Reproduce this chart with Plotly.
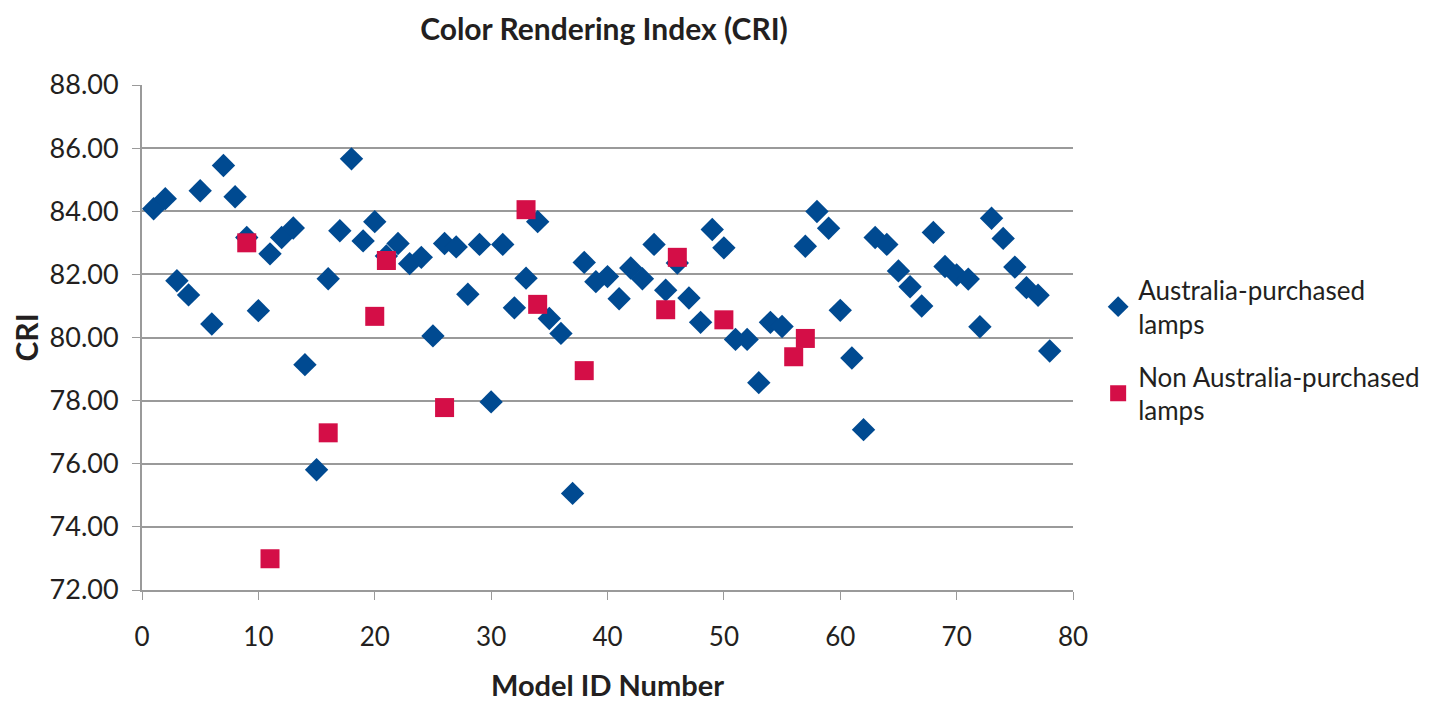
import plotly.graph_objects as go

# Australia-purchased lamps (model ID, CRI)
aus_ids = [1, 2, 3, 4, 5, 6, 7, 8, 9, 10, 11, 12, 13, 14, 15, 16, 17, 18, 19, 20,
           21, 22, 23, 24, 25, 26, 27, 28, 29, 30, 31, 32, 33, 34, 35, 36, 37, 38, 39, 40,
           41, 42, 43, 44, 45, 46, 47, 48, 49, 50, 51, 52, 53, 54, 55, 57, 58, 59, 60,
           61, 62, 63, 64, 65, 66, 67, 68, 69, 70, 71, 72, 73, 74, 75, 76, 77, 78]
aus_cri = [84.08, 84.40, 81.80, 81.35, 84.65, 80.43, 85.45, 84.46, 83.17, 80.85,
           82.65, 83.17, 83.47, 79.14, 75.81, 81.86, 83.38, 85.66, 83.06, 83.67,
           82.58, 82.98, 82.34, 82.54, 80.05, 82.98, 82.87, 81.37, 82.95, 77.96,
           82.95, 80.94, 81.88, 83.67, 80.60, 80.13, 75.06, 82.38, 81.77, 81.93,
           81.23, 82.20, 81.86, 82.95, 81.50, 82.36, 81.25, 80.48, 83.42, 82.84,
           79.94, 79.94, 78.57, 80.48, 80.35, 82.89, 83.99, 83.46, 80.86,
           79.35, 77.08, 83.17, 82.95, 82.11, 81.61, 81.00, 83.33, 82.25, 81.98,
           81.85, 80.34, 83.78, 83.14, 82.23, 81.58, 81.34, 79.57]

# Non Australia-purchased lamps
non_ids = [9, 11, 16, 20, 21, 26, 33, 34, 38, 45, 46, 50, 56, 57]
non_cri = [83.00, 72.99, 76.98, 80.67, 82.44, 77.78, 84.05, 81.05, 78.95, 80.88,
           82.54, 80.56, 79.39, 79.97]

x_ticks = [0, 10, 20, 30, 40, 50, 60, 70, 80]
y_ticks = [72, 74, 76, 78, 80, 82, 84, 86, 88]

FONT = "Lato, 'Open Sans', sans-serif"
TEXT = "#231f20"
GRID = "#9a9a9a"

fig = go.Figure()

fig.add_trace(go.Scatter(
    x=aus_ids, y=aus_cri,
    mode="markers",
    name="Australia-purchased<br>lamps",
    legendgroup="aus",
    marker=dict(symbol="diamond", size=18, color="#004a91"),
))
fig.add_trace(go.Scatter(
    x=non_ids, y=non_cri,
    mode="markers",
    name="Non Australia-purchased<br>lamps",
    legendgroup="non",
    marker=dict(symbol="square", size=19, color="#d40e47"),
))

fig.update_layout(
    width=1442, height=704,
    plot_bgcolor="white",
    paper_bgcolor="white",
    font=dict(family=FONT, size=26, color=TEXT),
    title=dict(
        text="<b>Color Rendering Index (CRI)</b>",
        x=0.4133, xanchor="center", xref="container",
        y=0.970, yanchor="middle", yref="container",
        font=dict(size=30, color=TEXT),
    ),
    xaxis=dict(
        range=[0, 80],
        tickvals=x_ticks,
        ticks="outside", ticklen=8, tickcolor=GRID,
        showline=True, linecolor=GRID, linewidth=2,
        showgrid=False, zeroline=False,
        ticklabelstandoff=15,
        tickfont=dict(size=26),
        automargin=False,
        title=dict(text="<b>Model ID Number</b>", font=dict(size=29), standoff=24),
    ),
    yaxis=dict(
        range=[72, 88],
        tickvals=y_ticks,
        tickformat=".2f",
        ticks="outside", ticklen=8, tickcolor=GRID,
        showline=True, linecolor=GRID, linewidth=2,
        showgrid=True, gridcolor=GRID, gridwidth=1.5,
        zeroline=False,
        ticklabelstandoff=8,
        tickfont=dict(size=27),
        automargin=False,
        title=dict(text="<b>CRI</b>", font=dict(size=30), standoff=9),
    ),
    legend=dict(
        x=0.756, xref="container", xanchor="left",
        y=0.633, yref="container", yanchor="top",
        font=dict(size=26, color=TEXT),
        tracegroupgap=16,
        itemsizing="trace",
    ),
    margin=dict(l=134, r=377, t=77, b=122),
)

fig.write_html("out.html")
